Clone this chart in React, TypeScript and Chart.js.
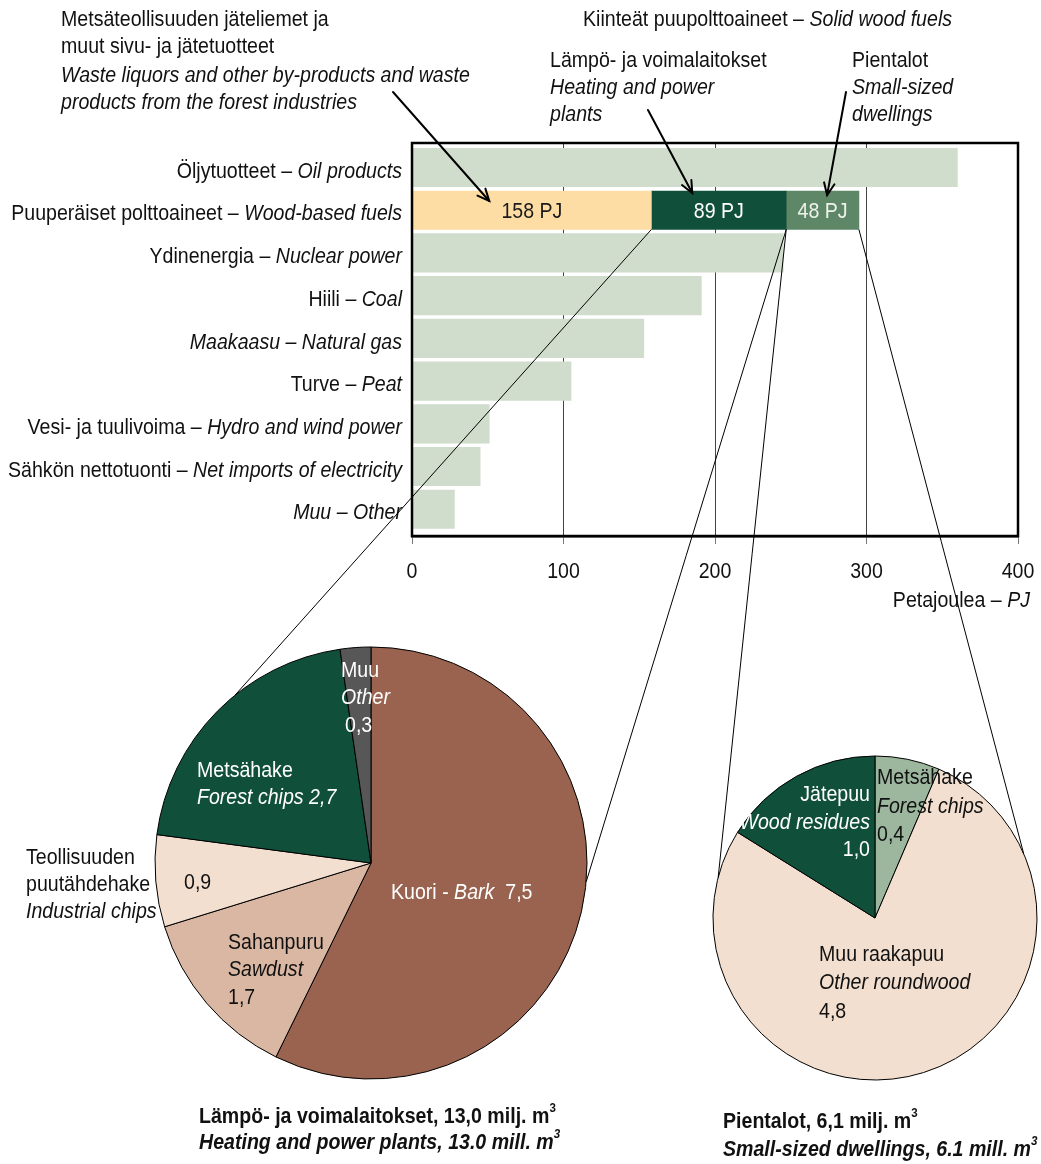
import React, { useEffect, useRef } from 'react';
import { Chart, registerables } from 'chart.js';

Chart.register(...registerables);

// ---------------- data ----------------
const fuelCategoriesFi = [
  'Öljytuotteet',
  'Puuperäiset polttoaineet',
  'Ydinenergia',
  'Hiili',
  'Maakaasu',
  'Turve',
  'Vesi- ja tuulivoima',
  'Sähkön nettotuonti',
  'Muu',
];
const fuelCategoriesEn = [
  'Oil products',
  'Wood-based fuels',
  'Nuclear power',
  'Coal',
  'Natural gas',
  'Peat',
  'Hydro and wind power',
  'Net imports of electricity',
  'Other',
];
const fuelLabelAllItalic = [false, false, false, false, true, false, false, false, true];
// PJ; the wood-based fuels row is drawn from its three segments below
const fuelValues: (number | null)[] = [360, null, 245, 191, 153, 105, 51, 45, 28];
const woodRowIndex = 1;
const woodSegmentNames = ['Jäteliemet ja sivutuotteet', 'Lämpö- ja voimalaitokset', 'Pientalot'];
const woodSegmentValues = [158, 89, 48];
const woodSegmentLabels = ['158 PJ', '89 PJ', '48 PJ'];
const xTickValues = [0, 100, 200, 300, 400];

const heatingSliceNames = ['Kuori', 'Sahanpuru', 'Teollisuuden puutähdehake', 'Metsähake', 'Muu'];
const heatingSliceValues = [7.5, 1.7, 0.9, 2.7, 0.3];
const dwellingSliceNames = ['Metsähake', 'Muu raakapuu', 'Jätepuu'];
const dwellingSliceValues = [0.4, 4.8, 1.0];

// ---------------- styles ----------------
const W = 1041;
const H = 1164;
const FS = 22;
const SX = 0.89;
const TXT = '#111';
const FAMILY = '"Liberation Sans", Arial, sans-serif';
const barGreen = '#d0dccc';
const woodColors = ['#fddda4', '#10503a', '#5e8767'];
const woodLabelColors = ['#1a1a1a', '#ffffff', '#eef2ea'];
const heatingColors = ['#99634f', '#d9b7a3', '#f3dfcf', '#10503a', '#575757'];
const dwellingColors = ['#9db79f', '#f3dfcf', '#10503a'];

type Part = { t: string; i?: boolean; b?: boolean; sup?: boolean };

function fontOf(p: Part) {
  const size = p.sup ? 13 : FS;
  return `${p.i ? 'italic ' : ''}${p.b ? 'bold ' : ''}${size}px ${FAMILY}`;
}

function drawParts(
  ctx: CanvasRenderingContext2D,
  parts: Part[],
  x: number,
  y: number,
  align: 'left' | 'right' | 'center',
  color: string
) {
  ctx.save();
  ctx.textBaseline = 'middle';
  ctx.textAlign = 'left';
  ctx.fillStyle = color;
  const widths = parts.map((p) => {
    ctx.font = fontOf(p);
    return ctx.measureText(p.t).width;
  });
  const total = widths.reduce((a, b) => a + b, 0) * SX;
  const sx = align === 'left' ? x : align === 'right' ? x - total : x - total / 2;
  ctx.translate(sx, y);
  ctx.scale(SX, 1);
  let cx = 0;
  parts.forEach((p, k) => {
    ctx.font = fontOf(p);
    ctx.fillText(p.t, cx, p.sup ? -9 : 0);
    cx += widths[k];
  });
  ctx.restore();
}

function drawArrow(ctx: CanvasRenderingContext2D, x0: number, y0: number, x1: number, y1: number) {
  ctx.save();
  ctx.strokeStyle = '#000';
  ctx.lineWidth = 2;
  ctx.lineCap = 'round';
  ctx.beginPath();
  ctx.moveTo(x0, y0);
  ctx.lineTo(x1, y1);
  ctx.stroke();
  const a = Math.atan2(y1 - y0, x1 - x0);
  const L = 13;
  const sp = 0.42;
  ctx.beginPath();
  ctx.moveTo(x1 - L * Math.cos(a - sp), y1 - L * Math.sin(a - sp));
  ctx.lineTo(x1, y1);
  ctx.lineTo(x1 - L * Math.cos(a + sp), y1 - L * Math.sin(a + sp));
  ctx.stroke();
  ctx.restore();
}

export default function App() {
  const barRef = useRef<HTMLCanvasElement>(null);
  const pieLRef = useRef<HTMLCanvasElement>(null);
  const pieRRef = useRef<HTMLCanvasElement>(null);

  useEffect(() => {
    document.body.style.margin = '0';
    const pieOptions: any = {
      animation: false,
      responsive: false,
      maintainAspectRatio: false,
      layout: { padding: 0 },
      plugins: { legend: { display: false }, tooltip: { enabled: false } },
    };

    const pieL = new Chart(pieLRef.current as HTMLCanvasElement, {
      type: 'pie',
      data: {
        labels: heatingSliceNames,
        datasets: [
          {
            data: heatingSliceValues,
            backgroundColor: heatingColors,
            borderColor: '#000',
            borderWidth: 1,
            radius: 216,
          } as any,
        ],
      },
      options: pieOptions,
    });

    const pieR = new Chart(pieRRef.current as HTMLCanvasElement, {
      type: 'pie',
      data: {
        labels: dwellingSliceNames,
        datasets: [
          {
            data: dwellingSliceValues,
            backgroundColor: dwellingColors,
            borderColor: '#000',
            borderWidth: 1,
            radius: 162,
          } as any,
        ],
      },
      options: pieOptions,
    });

    const pieGeom = (pie: Chart) => {
      const arc: any = pie.getDatasetMeta(0).data[0];
      const c = pie.canvas as HTMLCanvasElement;
      return { cx: c.offsetLeft + arc.x, cy: c.offsetTop + arc.y, r: arc.outerRadius };
    };
    const onCircle = (g: { cx: number; cy: number; r: number }, deg: number) => {
      const a = (deg * Math.PI) / 180;
      return [g.cx + g.r * Math.cos(a), g.cy + g.r * Math.sin(a)];
    };

    const overlay = {
      id: 'overlay',
      afterDraw(chart: any) {
        const ctx: CanvasRenderingContext2D = chart.ctx;
        const { left, top, right, bottom } = chart.chartArea;
        const xs = chart.scales.x;
        const ys = chart.scales.y;

        // frame
        ctx.save();
        ctx.strokeStyle = '#000';
        ctx.lineWidth = 2.5;
        ctx.strokeRect(left, top, right - left, bottom - top);
        ctx.restore();

        // x tick labels
        xs.ticks.forEach((t: any) => {
          drawParts(ctx, [{ t: String(t.value) }], xs.getPixelForValue(t.value), bottom + 36, 'center', TXT);
        });

        // category labels
        fuelCategoriesFi.forEach((fi, i) => {
          const y = ys.getPixelForValue(i) + 4;
          const en = fuelCategoriesEn[i];
          const parts: Part[] = fuelLabelAllItalic[i]
            ? [{ t: `${fi} – ${en}`, i: true }]
            : [{ t: `${fi} – ` }, { t: en, i: true }];
          drawParts(ctx, parts, left - 10, y, 'right', TXT);
        });

        // segment value labels
        const segs = woodSegmentValues.map((_, k) => chart.getDatasetMeta(k + 1).data[0] as any);
        segs.forEach((el, k) => {
          drawParts(ctx, [{ t: woodSegmentLabels[k] }], (el.x + el.base) / 2, el.y + 2, 'center', woodLabelColors[k]);
        });

        // axis title
        drawParts(ctx, [{ t: 'Petajoulea – ' }, { t: 'PJ', i: true }], right + 12, bottom + 65, 'right', TXT);

        // top annotations
        drawParts(ctx, [{ t: 'Metsäteollisuuden jäteliemet ja' }], 61, 20, 'left', TXT);
        drawParts(ctx, [{ t: 'muut sivu- ja jätetuotteet' }], 61, 47, 'left', TXT);
        drawParts(ctx, [{ t: 'Waste liquors and other by-products and waste', i: true }], 61, 76, 'left', TXT);
        drawParts(ctx, [{ t: 'products from the forest industries', i: true }], 61, 103, 'left', TXT);

        drawParts(ctx, [{ t: 'Kiinteät puupolttoaineet – ' }, { t: 'Solid wood fuels', i: true }], 583, 20, 'left', TXT);
        drawParts(ctx, [{ t: 'Lämpö- ja voimalaitokset' }], 550, 61, 'left', TXT);
        drawParts(ctx, [{ t: 'Heating and power', i: true }], 550, 88, 'left', TXT);
        drawParts(ctx, [{ t: 'plants', i: true }], 550, 115, 'left', TXT);
        drawParts(ctx, [{ t: 'Pientalot' }], 852, 61, 'left', TXT);
        drawParts(ctx, [{ t: 'Small-sized', i: true }], 852, 88, 'left', TXT);
        drawParts(ctx, [{ t: 'dwellings', i: true }], 852, 115, 'left', TXT);

        // arrows to the wood bar segments
        const barTop = segs[0].y - segs[0].height / 2;
        drawArrow(ctx, 393, 92, xs.getPixelForValue(51), barTop + 10);
        drawArrow(ctx, 648, 110, xs.getPixelForValue(185), barTop + 2);
        drawArrow(ctx, 846, 92, xs.getPixelForValue(274), barTop + 4);

        // connector lines from bar segments to the pies
        const barBottom = segs[0].y + segs[0].height / 2;
        const gL = pieGeom(pieL);
        const gR = pieGeom(pieR);
        const lines: [number, number[]][] = [
          [segs[0].x, onCircle(gL, -129)],
          [segs[1].x, onCircle(gL, 5)],
          [segs[1].x, onCircle(gR, -165.5)],
          [segs[2].x, onCircle(gR, -23.4)],
        ];
        ctx.save();
        ctx.strokeStyle = '#000';
        ctx.lineWidth = 1;
        lines.forEach(([sx, [ex, ey]]) => {
          ctx.beginPath();
          ctx.moveTo(sx, barBottom);
          ctx.lineTo(ex, ey);
          ctx.stroke();
        });
        ctx.restore();

        // left pie labels
        const WH = '#ffffff';
        drawParts(ctx, [{ t: 'Muu' }], 341, 671, 'left', WH);
        drawParts(ctx, [{ t: 'Other', i: true }], 341, 698, 'left', WH);
        drawParts(ctx, [{ t: '0,3' }], 345, 726, 'left', WH);
        drawParts(ctx, [{ t: 'Metsähake' }], 197, 771, 'left', WH);
        drawParts(ctx, [{ t: 'Forest chips 2,7', i: true }], 197, 798, 'left', WH);
        drawParts(ctx, [{ t: '0,9' }], 184, 883, 'left', TXT);
        drawParts(ctx, [{ t: 'Kuori - ' }, { t: 'Bark', i: true }, { t: '  7,5' }], 391, 893, 'left', WH);
        drawParts(ctx, [{ t: 'Sahanpuru' }], 228, 943, 'left', TXT);
        drawParts(ctx, [{ t: 'Sawdust', i: true }], 228, 970, 'left', TXT);
        drawParts(ctx, [{ t: '1,7' }], 228, 998, 'left', TXT);
        drawParts(ctx, [{ t: 'Teollisuuden' }], 26, 858, 'left', TXT);
        drawParts(ctx, [{ t: 'puutähdehake' }], 26, 885, 'left', TXT);
        drawParts(ctx, [{ t: 'Industrial chips', i: true }], 26, 912, 'left', TXT);

        // right pie labels
        drawParts(ctx, [{ t: 'Jätepuu' }], 870, 795, 'right', WH);
        drawParts(ctx, [{ t: 'Wood residues', i: true }], 870, 823, 'right', WH);
        drawParts(ctx, [{ t: '1,0' }], 870, 850, 'right', WH);
        drawParts(ctx, [{ t: 'Metsähake' }], 877, 778, 'left', TXT);
        drawParts(ctx, [{ t: 'Forest chips', i: true }], 877, 807, 'left', TXT);
        drawParts(ctx, [{ t: '0,4' }], 877, 835, 'left', TXT);
        drawParts(ctx, [{ t: 'Muu raakapuu' }], 819, 955, 'left', TXT);
        drawParts(ctx, [{ t: 'Other roundwood', i: true }], 819, 983, 'left', TXT);
        drawParts(ctx, [{ t: '4,8' }], 819, 1012, 'left', TXT);

        // captions
        drawParts(ctx, [{ t: 'Lämpö- ja voimalaitokset, 13,0 milj. m', b: true }, { t: '3', b: true, sup: true }], 199, 1117, 'left', TXT);
        drawParts(ctx, [{ t: 'Heating and power plants, 13.0 mill. m', b: true, i: true }, { t: '3', b: true, i: true, sup: true }], 199, 1143, 'left', TXT);
        drawParts(ctx, [{ t: 'Pientalot, 6,1 milj. m', b: true }, { t: '3', b: true, sup: true }], 723, 1122, 'left', TXT);
        drawParts(ctx, [{ t: 'Small-sized dwellings, 6.1 mill. m', b: true, i: true }, { t: '3', b: true, i: true, sup: true }], 723, 1150, 'left', TXT);
      },
    };

    const otherData = fuelValues
      .map((v, i) => (v == null ? null : { x: v, y: i }))
      .filter((d) => d !== null);

    const bar = new Chart(barRef.current as HTMLCanvasElement, {
      type: 'bar',
      data: {
        datasets: [
          {
            label: 'Muut energialähteet',
            data: otherData as any,
            backgroundColor: barGreen,
            stack: 's',
          },
          ...woodSegmentValues.map((v, k) => ({
            label: woodSegmentNames[k],
            data: [{ x: v, y: woodRowIndex }] as any,
            backgroundColor: woodColors[k],
            stack: 's',
          })),
        ],
      },
      options: {
        indexAxis: 'y',
        animation: false,
        responsive: false,
        maintainAspectRatio: false,
        layout: { padding: { left: 412, top: 143, right: 23, bottom: 1164 - 536 - 60 } },
        datasets: { bar: { barThickness: 38.5, borderWidth: 0 } },
        plugins: { legend: { display: false }, tooltip: { enabled: false }, title: { display: false } },
        scales: {
          x: {
            type: 'linear',
            stacked: true,
            min: 0,
            max: 400,
            afterBuildTicks: (s: any) => {
              s.ticks = xTickValues.map((v) => ({ value: v }));
            },
            afterFit: (s: any) => {
              s.height = 60;
              s.paddingLeft = 0;
              s.paddingRight = 0;
            },
            ticks: { display: false },
            grid: { color: '#444', lineWidth: 1, drawTicks: true, tickLength: 8, tickColor: '#777' },
            border: { display: true, color: '#000', width: 2.5 },
          },
          y: {
            type: 'linear',
            stacked: true,
            reverse: true,
            offset: false,
            bounds: 'data',
            min: -0.574,
            max: 8.626,
            afterBuildTicks: (s: any) => {
              s.ticks = fuelCategoriesFi.map((_, i) => ({ value: i }));
            },
            display: false,
          },
        },
      } as any,
      plugins: [overlay as any],
    });

    return () => {
      bar.destroy();
      pieL.destroy();
      pieR.destroy();
    };
  }, []);

  return (
    <div style={{ position: 'absolute', left: 0, top: 0, width: W, height: H, background: '#fff' }}>
      <canvas ref={pieLRef} width={460} height={460} style={{ position: 'absolute', left: 141, top: 633 }} />
      <canvas ref={pieRRef} width={340} height={340} style={{ position: 'absolute', left: 705, top: 748 }} />
      <canvas ref={barRef} width={W} height={H} style={{ position: 'absolute', left: 0, top: 0 }} />
    </div>
  );
}
